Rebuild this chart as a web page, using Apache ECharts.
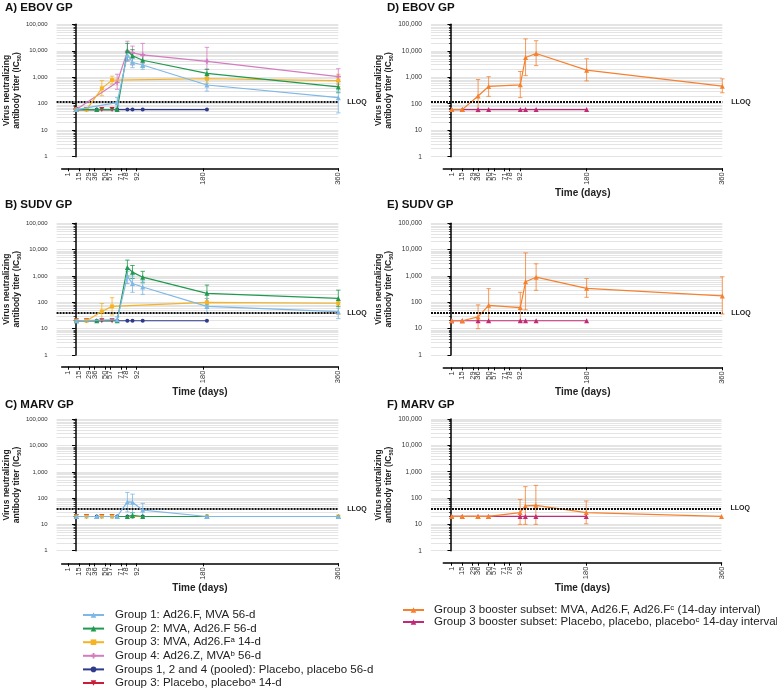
<!DOCTYPE html>
<html>
<head>
<meta charset="utf-8">
<script src="https://cdn.jsdelivr.net/npm/echarts@6.0.0/dist/echarts.min.js"></script>
<style>
html,body{margin:0;padding:0;background:#fff;}
#chart{width:777px;height:691px;}
</style>
</head>
<body>
<div id="chart"></div>
<script>
// ---------- tick labels ----------
const DAY_TICKS = [1, 15, 29, 36, 50, 57, 71, 78, 92, 180, 360];
const Y_TICKS = [1, 10, 100, 1000, 10000, 100000];

// ---------- series names ----------
const N_G1 = 'Group 1: Ad26.F, MVA 56-d';
const N_G2 = 'Group 2: MVA, Ad26.F 56-d';
const N_G3 = 'Group 3: MVA, Ad26.F\u1d43 14-d';
const N_G4 = 'Group 4: Ad26.Z, MVA\u1d47 56-d';
const N_POOL = 'Groups 1, 2 and 4 (pooled): Placebo, placebo 56-d';
const N_G3P = 'Group 3: Placebo, placebo\u1d43 14-d';
const N_BOOST = 'Group 3 booster subset: MVA, Ad26.F, Ad26.F\u1d9c (14-day interval)';
const N_BOOSTP = 'Group 3 booster subset: Placebo, placebo, placebo\u1d9c 14-day interval)';

// ---------- A) EBOV GP ----------
const ebov_g1_days = [1, 57, 71, 78, 92, 180, 360];
const ebov_g1_gmt  = [60, 110, 7000, 3600, 2900, 510, 170];
const ebov_g1_ci   = [[57, 75, 170], [71, 4200, 9000], [78, 2300, 5100], [92, 2000, 4300], [180, 300, 850], [360, 45, 300]];
const ebov_g2_days = [1, 29, 57, 71, 78, 92, 180, 360];
const ebov_g2_gmt  = [60, 60, 60, 10000, 6500, 4400, 1400, 430];
const ebov_g2_ci   = [[71, 4500, 19000], [78, 3500, 11000], [92, 2400, 7000], [180, 1000, 2000], [360, 260, 700]];
const ebov_g3_days = [1, 15, 36, 50, 180, 360];
const ebov_g3_gmt  = [60, 60, 380, 780, 880, 750];
const ebov_g3_ci   = [[36, 200, 750], [50, 550, 1100], [180, 600, 1300], [360, 450, 1300]];
const ebov_g4_days = [1, 57, 71, 78, 92, 180, 360];
const ebov_g4_gmt  = [60, 650, 9500, 8300, 7000, 4000, 1050];
const ebov_g4_ci   = [[57, 350, 1300], [71, 4000, 23000], [78, 2900, 15000], [92, 3400, 19000], [180, 2000, 13500], [360, 550, 2100]];
const ebov_pool_days = [1, 29, 57, 71, 78, 92, 180];
const ebov_pool_gmt  = [60, 60, 60, 60, 60, 60, 60];
const ebov_g3p_days = [1, 15, 36, 50];
const ebov_g3p_gmt  = [60, 60, 60, 60];

// ---------- B) SUDV GP ----------
const sudv_g1_days = [1, 57, 71, 78, 92, 180, 360];
const sudv_g1_gmt  = [20, 22, 950, 520, 380, 70, 44];
const sudv_g1_ci   = [[57, 18, 28], [71, 520, 1500], [78, 240, 1000], [92, 200, 650], [180, 38, 140], [360, 24, 60]];
const sudv_g2_days = [1, 29, 57, 71, 78, 92, 180, 360];
const sudv_g2_gmt  = [20, 20, 20, 2100, 1400, 900, 220, 140];
const sudv_g2_ci   = [[71, 1000, 4000], [78, 800, 2500], [92, 550, 1500], [180, 80, 450], [360, 70, 290]];
const sudv_g3_days = [1, 15, 36, 50, 180, 360];
const sudv_g3_gmt  = [20, 20, 45, 70, 100, 92];
const sudv_g3_ci   = [[36, 20, 90], [50, 33, 150], [180, 60, 140], [360, 35, 100]];
const sudv_pool_days = [1, 29, 57, 71, 78, 92, 180];
const sudv_pool_gmt  = [20, 20, 20, 20, 20, 20, 20];
const sudv_g3p_days = [1, 15, 36, 50];
const sudv_g3p_gmt  = [20, 20, 20, 20];

// ---------- C) MARV GP ----------
const marv_g1_days = [1, 29, 57, 71, 78, 92, 180, 360];
const marv_g1_gmt  = [20, 20, 20, 72, 70, 35, 20, 20];
const marv_g1_ci   = [[71, 30, 165], [78, 28, 142], [92, 21, 63]];
const marv_g2_days = [1, 29, 57, 71, 78, 92, 180, 360];
const marv_g2_gmt  = [20, 20, 20, 20, 22, 20, 20, 20];
const marv_g2_ci   = [[78, 18, 28]];
const marv_g3_days = [1, 15, 36, 50, 180, 360];
const marv_g3_gmt  = [20, 20, 20, 20, 20, 20];
const marv_pool_days = [1, 29, 57, 71, 78, 92, 180];
const marv_pool_gmt  = [20, 20, 20, 20, 20, 20, 20];
const marv_g3p_days = [1, 15, 36, 50];
const marv_g3p_gmt  = [20, 20, 20, 20];

// ---------- D/E/F) booster subset ----------
const boost_days  = [1, 15, 36, 50, 92, 99, 113, 180, 360];
const boostp_days = [1, 15, 36, 50, 92, 99, 113, 180];
const ebov_boost_gmt = [60, 60, 195, 450, 520, 5600, 7900, 1850, 460];
const ebov_boost_ci  = [[36, 50, 820], [50, 190, 1050], [92, 170, 1650], [99, 1150, 28000], [113, 2750, 24000], [180, 730, 5000], [360, 260, 870]];
const ebov_boostp_gmt = [60, 60, 60, 60, 60, 60, 60, 60];
const sudv_boost_gmt = [20, 20, 28, 77, 63, 600, 900, 340, 175];
const sudv_boost_ci  = [[36, 10, 80], [50, 18, 330], [92, 18, 240], [99, 52, 7500], [113, 285, 2900], [180, 155, 800], [360, 36, 930]];
const sudv_boostp_gmt = [20, 20, 20, 20, 20, 20, 20, 20];
const marv_boost_gmt = [20, 20, 20, 20, 28, 50, 53, 28, 20];
const marv_boost_ci  = [[92, 10, 88], [99, 10, 270], [113, 10, 300], [180, 10.5, 77]];
const marv_boostp_gmt = [20, 20, 20, 20, 20, 20, 20, 20];

// ---------- LLOQ ----------
const LLOQ_EBOV = 120, LLOQ_SUDV = 40, LLOQ_MARV = 40;

// ---------- styles ----------
const STYLE = {
  g1:    {name: N_G1, color: '#7db8e6', symbol: 'triangle', size: 5, rot: 0},
  g2:    {name: N_G2, color: '#1f9a4f', symbol: 'triangle', size: 5, rot: 0},
  g3:    {name: N_G3, color: '#f6b324', symbol: 'rect', size: 4, rot: 0},
  g4:    {name: N_G4, color: '#d47cc0', symbol: 'path://M-1,-3H1V-1H3V1H1V3H-1V1H-3V-1H-1Z', size: 5, rot: 0},
  pool:  {name: N_POOL, color: '#2e3a8c', symbol: 'circle', size: 4, rot: 0},
  g3p:   {name: N_G3P, color: '#c81e3a', symbol: 'triangle', size: 5, rot: 180},
  boost: {name: N_BOOST, color: '#f5812f', symbol: 'triangle', size: 5, rot: 0},
  boostp:{name: N_BOOSTP, color: '#c12a76', symbol: 'triangle', size: 5, rot: 0}
};

// panel layout (pixels)
const LAYOUT = [
  {title: 'A) EBOV GP', tx: 5,   ty: 2,     yx: 48,  x1: 68.3,  x360: 338.3, ax0: 61.7,  top: 24.3,  bot: 156.7, axY: 168.3, xName: false, lloq: LLOQ_EBOV, yFont: 6,   nGap: 20},
  {title: 'B) SUDV GP', tx: 5,   ty: 198.5, yx: 48,  x1: 68.3,  x360: 338.3, ax0: 61.7,  top: 223.3, bot: 355,   axY: 366.7, xName: true,  lloq: LLOQ_SUDV, yFont: 6,   nGap: 20},
  {title: 'C) MARV GP', tx: 5,   ty: 399,   yx: 48,  x1: 68.3,  x360: 338.3, ax0: 61.7,  top: 419.3, bot: 550.7, axY: 563.3, xName: true,  lloq: LLOQ_MARV, yFont: 6,   nGap: 20},
  {title: 'D) EBOV GP', tx: 387, ty: 2,     yx: 431, x1: 451.7, x360: 722.3, ax0: 443.3, top: 24.3,  bot: 156.7, axY: 168.3, xName: true,  lloq: LLOQ_EBOV, yFont: 6.6, nGap: 22},
  {title: 'E) SUDV GP', tx: 387, ty: 198.5, yx: 431, x1: 451.7, x360: 722.3, ax0: 443.3, top: 223.3, bot: 355,   axY: 367.3, xName: true,  lloq: LLOQ_SUDV, yFont: 6.6, nGap: 22},
  {title: 'F) MARV GP', tx: 387, ty: 399,   yx: 431, x1: 451.7, x360: 721.5, ax0: 443.3, top: 419,   bot: 550.7, axY: 562.7, xName: true,  lloq: LLOQ_MARV, yFont: 6.6, nGap: 22}
];

// series per panel: [styleKey, days, gmt, ci]   (bottom -> top)
const PANEL_SERIES = [
  [['pool', ebov_pool_days, ebov_pool_gmt, []], ['g3p', ebov_g3p_days, ebov_g3p_gmt, []], ['g4', ebov_g4_days, ebov_g4_gmt, ebov_g4_ci], ['g3', ebov_g3_days, ebov_g3_gmt, ebov_g3_ci], ['g2', ebov_g2_days, ebov_g2_gmt, ebov_g2_ci], ['g1', ebov_g1_days, ebov_g1_gmt, ebov_g1_ci]],
  [['pool', sudv_pool_days, sudv_pool_gmt, []], ['g3p', sudv_g3p_days, sudv_g3p_gmt, []], ['g3', sudv_g3_days, sudv_g3_gmt, sudv_g3_ci], ['g2', sudv_g2_days, sudv_g2_gmt, sudv_g2_ci], ['g1', sudv_g1_days, sudv_g1_gmt, sudv_g1_ci]],
  [['pool', marv_pool_days, marv_pool_gmt, []], ['g3p', marv_g3p_days, marv_g3p_gmt, []], ['g3', marv_g3_days, marv_g3_gmt, []], ['g2', marv_g2_days, marv_g2_gmt, marv_g2_ci], ['g1', marv_g1_days, marv_g1_gmt, marv_g1_ci]],
  [['boostp', boostp_days, ebov_boostp_gmt, []], ['boost', boost_days, ebov_boost_gmt, ebov_boost_ci]],
  [['boostp', boostp_days, sudv_boostp_gmt, []], ['boost', boost_days, sudv_boost_gmt, sudv_boost_ci]],
  [['boostp', boostp_days, marv_boostp_gmt, []], ['boost', boost_days, marv_boost_gmt, marv_boost_ci]]
];

function makeErr(color) {
  return function (params, api) {
    const x = api.value(0), lo = api.value(1), hi = api.value(2);
    const a = api.coord([x, lo]), b = api.coord([x, hi]);
    const w = 2.2;
    const st = {stroke: color, lineWidth: 1, opacity: 0.8};
    return {type: 'group', children: [
      {type: 'line', shape: {x1: a[0], y1: a[1], x2: b[0], y2: b[1]}, style: st},
      {type: 'line', shape: {x1: a[0] - w, y1: a[1], x2: a[0] + w, y2: a[1]}, style: st},
      {type: 'line', shape: {x1: b[0] - w, y1: b[1], x2: b[0] + w, y2: b[1]}, style: st}
    ]};
  };
}

const grids = [], xAxes = [], yAxes = [], series = [], titles = [];
LAYOUT.forEach((p, i) => {
  const ppd = (p.x360 - p.x1) / 359;
  const xmin = 1 - (p.x1 - p.yx) / ppd;
  const axmin = 1 - (p.x1 - p.ax0) / ppd;
  const gD = 2 * i, gA = 2 * i + 1;
  titles.push({text: p.title, left: p.tx, top: p.ty, padding: 0,
    textStyle: {fontSize: 11.5, fontWeight: 'bold', color: '#111'}});
  grids.push({left: p.yx, top: p.top, width: p.x360 - p.yx, height: p.bot - p.top});
  grids.push({left: p.ax0, top: p.axY - 1, width: p.x360 - p.ax0, height: 1});
  xAxes.push({gridIndex: gD, type: 'value', min: xmin, max: 360, show: false});
  xAxes.push({gridIndex: gA, type: 'value', min: axmin, max: 360,
    axisLine: {show: true, onZero: false, lineStyle: {color: '#000', width: 1.5}},
    axisTick: {show: true, customValues: DAY_TICKS, length: 3, lineStyle: {color: '#000', width: 1}},
    axisLabel: {customValues: DAY_TICKS, rotate: 90, fontSize: 7.5, color: '#333', margin: 4},
    splitLine: {show: false},
    name: p.xName ? 'Time (days)' : '', nameLocation: 'middle', nameGap: 20,
    nameTextStyle: {fontSize: 10, fontWeight: 'bold', color: '#222'}});
  yAxes.push({gridIndex: gD, type: 'log', logBase: 10, min: 1, max: 100000,
    axisLine: {show: true, lineStyle: {color: '#000', width: 1.5}},
    axisTick: {show: true, length: 3.5, lineStyle: {color: '#000', width: 1}},
    minorTick: {show: true, splitNumber: 9, length: 2, lineStyle: {color: '#000', width: 0.7}},
    axisLabel: {fontSize: p.yFont, color: '#333', margin: 9, formatter: v => Number(v).toLocaleString('en-US')},
    splitLine: {show: true, lineStyle: {color: '#e4e4e4', width: 1}},
    minorSplitLine: {show: true, lineStyle: {color: '#e4e4e4', width: 1}},
    name: 'Virus neutralizing\nantibody titer (IC{s|50})', nameLocation: 'middle', nameGap: p.nGap,
    nameTextStyle: {fontSize: 8.5, fontWeight: 'bold', color: '#222', lineHeight: 10.5,
      rich: {s: {fontSize: 5.5, fontWeight: 'bold', color: '#222', verticalAlign: 'bottom', lineHeight: 10.5, padding: [4, 0, 0, 0]}}}});
  yAxes.push({gridIndex: gA, type: 'value', show: false});

  PANEL_SERIES[i].forEach((s, k) => {
    const st = STYLE[s[0]];
    if (s[3].length) {
      series.push({type: 'custom', name: 'err ' + st.name, xAxisIndex: gD, yAxisIndex: gD,
        data: s[3], encode: {x: 0, y: [1, 2]}, renderItem: makeErr(st.color),
        clip: false, silent: true, z: 2, animation: false});
    }
    const line = {type: 'line', name: st.name, xAxisIndex: gD, yAxisIndex: gD,
      data: s[1].map((d, j) => [d, s[2][j]]),
      symbol: st.symbol, symbolSize: st.size, symbolRotate: st.rot, showSymbol: true,
      lineStyle: {color: st.color, width: 1.2}, itemStyle: {color: st.color},
      z: 3 + k, silent: true, animation: false, clip: false};
    if (k === 0) {
      line.markLine = {silent: true, symbol: ['none', 'none'], animation: false,
        lineStyle: {color: '#111', type: [2, 1], width: 2},
        label: {show: true, position: 'end', formatter: 'LLOQ', fontSize: 7, fontWeight: 'bold', color: '#222', distance: 9},
        data: [{yAxis: p.lloq}]};
    }
    series.push(line);
  });
});

const chart = echarts.init(document.getElementById('chart'), null, {renderer: 'canvas'});
chart.setOption({
  animation: false,
  backgroundColor: '#fff',
  textStyle: {fontFamily: '"Liberation Sans", Arial, sans-serif'},
  title: titles,
  grid: grids,
  xAxis: xAxes,
  yAxis: yAxes,
  legend: [
    {orient: 'vertical', left: 82, top: 609, padding: 0, itemWidth: 21, itemHeight: 7, itemGap: 1.6,
      data: [N_G1, N_G2, N_G3, N_G4, N_POOL, N_G3P], selectedMode: false,
      textStyle: {fontSize: 11.5, color: '#222', lineHeight: 12, padding: [0, 0, 0, 6]}},
    {orient: 'vertical', left: 402, top: 604, padding: 0, itemWidth: 21, itemHeight: 7, itemGap: 0,
      data: [N_BOOST, N_BOOSTP], selectedMode: false,
      textStyle: {fontSize: 11.5, color: '#222', lineHeight: 11.7, padding: [0, 0, 0, 5]}}
  ],
  series: series
});
</script>
</body>
</html>
